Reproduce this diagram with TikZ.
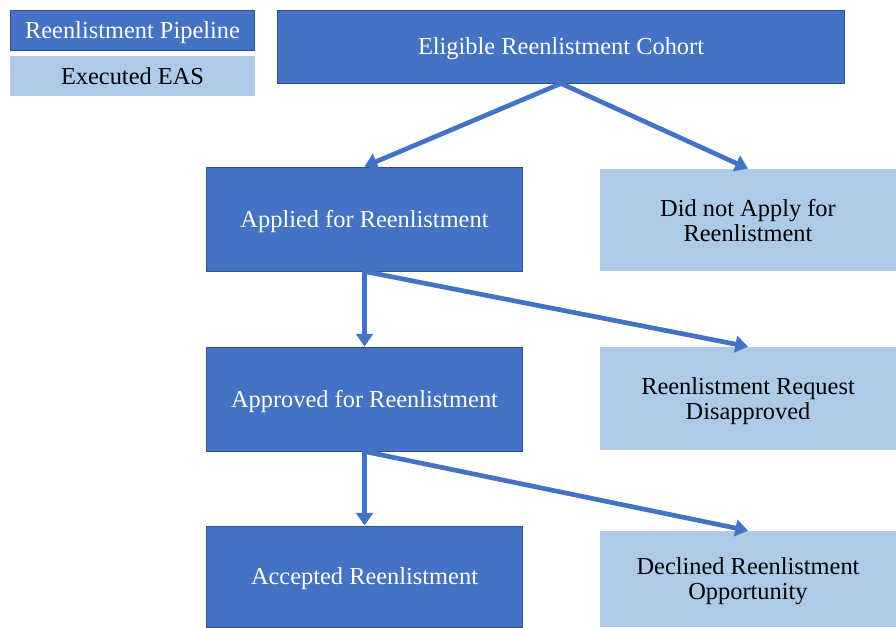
\documentclass[tikz,border=0pt]{standalone}
\usepackage{fontspec}
\setmainfont{Liberation Serif}
\usetikzlibrary{arrows.meta}

\definecolor{pipeblue}{HTML}{4472C4}
\definecolor{pipeedge}{HTML}{2F528F}
\definecolor{easblue}{HTML}{ADCBE8}

\begin{document}
\begin{tikzpicture}[x=0.018cm,y=-0.018cm,
  pipe/.style={rectangle,fill=pipeblue,draw=pipeedge,line width=0.5pt,text=white,align=center,inner sep=0pt,text depth=0pt},
  eas/.style={rectangle,fill=easblue,text=black,align=center,inner sep=0pt,text depth=0pt},
  flow/.style={draw=pipeblue,line width=2.4pt,-{Triangle[width=8.5pt,length=6.5pt]}},
  every node/.append style={font=\fontsize{12.5}{12.8}\selectfont}]
\useasboundingbox (0,0) rectangle (896,627);
% legend
\node[pipe,minimum width=4.41cm,minimum height=0.72cm] (legpipe) at (132.5,30) {Reenlistment Pipeline};
\node[eas,minimum width=4.41cm,minimum height=0.72cm] (legeas) at (132.5,76) {Executed EAS};
% pipeline column
\node[pipe,minimum width=10.224cm,minimum height=1.314cm] (cohort) at (561,46.5) {Eligible Reenlistment Cohort};
\node[pipe,minimum width=5.706cm,minimum height=1.872cm] (applied) at (364.5,219) {Applied for Reenlistment};
\node[pipe,minimum width=5.706cm,minimum height=1.872cm] (approved) at (364.5,399) {Approved for Reenlistment};
\node[pipe,minimum width=5.706cm,minimum height=1.818cm] (accepted) at (364.5,576.5) {Accepted Reenlistment};
% outcome column
\node[eas,minimum width=5.328cm,minimum height=1.836cm] (noapply) at (748,220) {Did not Apply for\\Reenlistment};
\node[eas,minimum width=5.328cm,minimum height=1.854cm] (disapproved) at (748,398.5) {Reenlistment Request\\Disapproved};
\node[eas,minimum width=5.328cm,minimum height=1.728cm] (declined) at (748,579) {Declined Reenlistment\\Opportunity};
% arrows
\draw[flow] (cohort.south) -- (applied.north);
\draw[flow] (cohort.south) -- (noapply.north);
\draw[flow] (applied.south) -- (approved.north);
\draw[flow] (applied.south) -- (disapproved.north);
\draw[flow] (approved.south) -- (accepted.north);
\draw[flow] (approved.south) -- (declined.north);
\end{tikzpicture}
\end{document}
